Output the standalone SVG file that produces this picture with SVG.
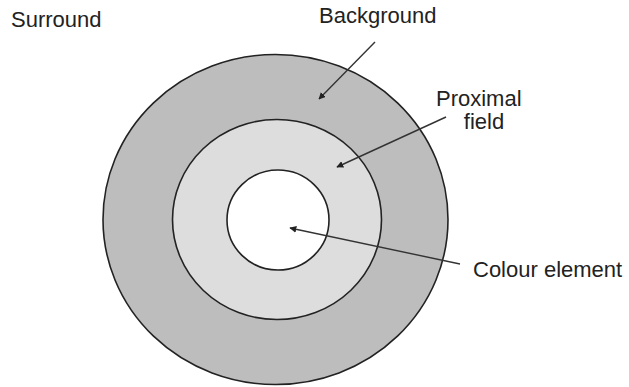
<svg xmlns="http://www.w3.org/2000/svg" width="629" height="387" viewBox="0 0 629 387">
<style>
.lbl{font-family:"Liberation Sans",Arial,sans-serif;font-size:22px;fill:#222}
.ring{stroke:#222;stroke-width:1.6}
.arr{stroke:#333;stroke-width:1.4;fill:none;marker-end:url(#ah)}
</style>
<defs>
<marker id="ah" viewBox="0 0 10 10" refX="9" refY="5" markerWidth="7" markerHeight="7" markerUnits="userSpaceOnUse" orient="auto">
<path d="M0,0 L10,5 L0,10 z" fill="#222"/>
</marker>
</defs>
<rect width="629" height="387" fill="#fff"/>
<g id="background">
<ellipse class="ring" cx="275.5" cy="219.5" rx="172.5" ry="165" fill="#bdbdbd"/>
</g>
<g id="proximal-field">
<ellipse class="ring" cx="277" cy="219.5" rx="104.5" ry="100" fill="#dddddd"/>
</g>
<g id="colour-element">
<ellipse class="ring" cx="278" cy="220" rx="51" ry="50" fill="#ffffff"/>
</g>
<g id="labels">
<text class="lbl" x="11" y="27">Surround</text>
<text class="lbl" x="319" y="23">Background</text>
<text class="lbl" x="436" y="106">Proximal</text>
<text class="lbl" x="484" y="129" text-anchor="middle">field</text>
<text class="lbl" x="473" y="277">Colour element</text>
</g>
<g id="connectors">
<line class="arr" x1="375" y1="42" x2="319" y2="99"/>
<line class="arr" x1="446" y1="117" x2="337" y2="167"/>
<line class="arr" x1="460" y1="264" x2="290" y2="228"/>
</g>
</svg>
